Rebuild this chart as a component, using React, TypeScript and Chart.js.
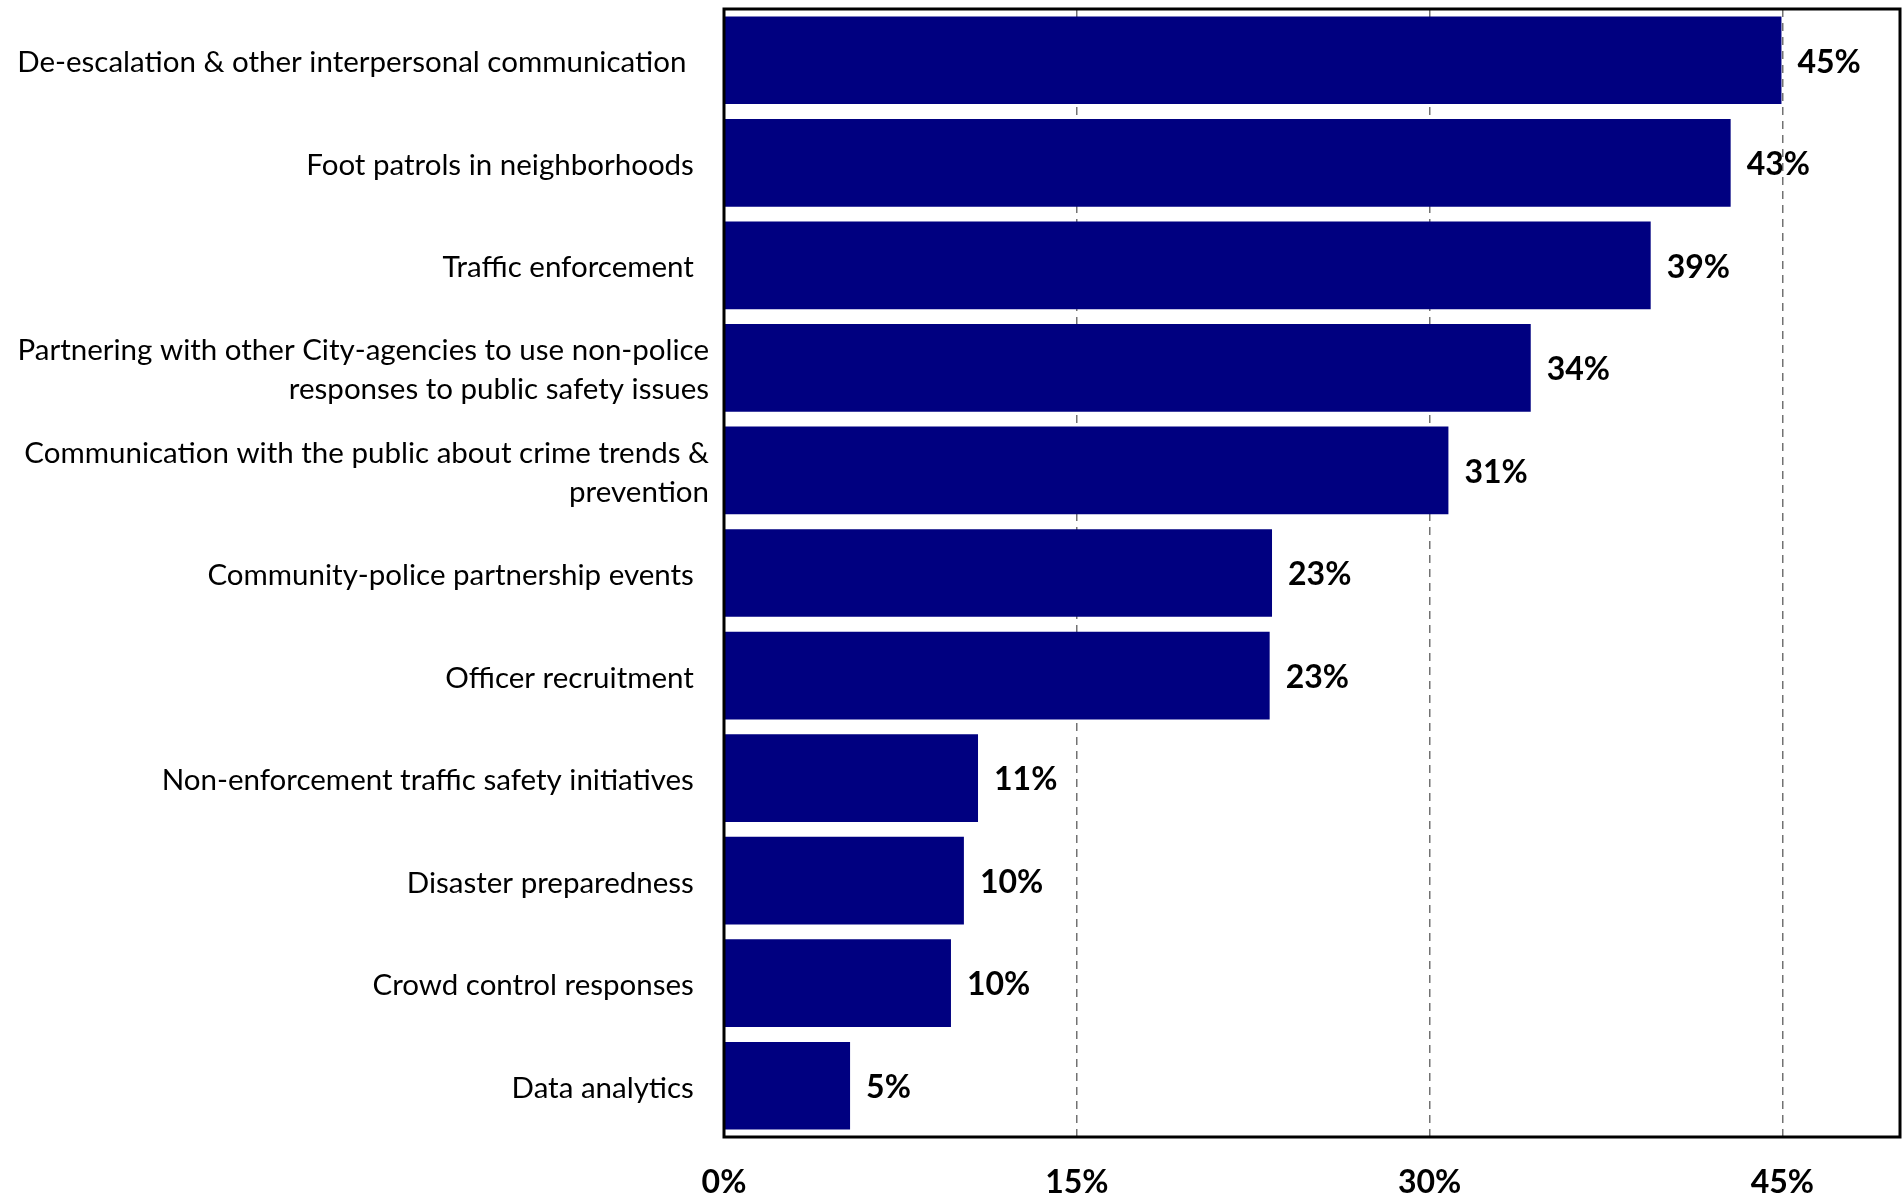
import React, { useEffect, useRef } from 'react';
import { Chart, registerables } from 'chart.js';

Chart.register(...registerables);

const categories: (string | string[])[] = [
  'De-escalation & other interpersonal communication   ',
  'Foot patrols in neighborhoods  ',
  'Traffic enforcement  ',
  ['Partnering with other City-agencies to use non-police', 'responses to public safety issues'],
  ['Communication with the public about crime trends &', 'prevention'],
  'Community-police partnership events  ',
  'Officer recruitment  ',
  'Non-enforcement traffic safety initiatives  ',
  'Disaster preparedness  ',
  'Crowd control responses  ',
  'Data analytics  ',
];

const values: number[] = [44.96, 42.8, 39.4, 34.3, 30.8, 23.3, 23.2, 10.8, 10.2, 9.65, 5.36];

const xTickValues: number[] = [0, 15, 30, 45];
const xMax = 50;

const FONT = 'Lato';
const BAR_COLOR = '#000080';

const framePlugin = {
  id: 'frame',
  afterDraw(chart: any) {
    const { ctx, chartArea } = chart;
    ctx.save();
    ctx.strokeStyle = '#000000';
    ctx.lineWidth = 3;
    ctx.strokeRect(chartArea.left, chartArea.top, chartArea.right - chartArea.left, chartArea.bottom - chartArea.top);
    ctx.restore();
  },
};

const valueLabelPlugin = {
  id: 'valueLabels',
  afterDatasetsDraw(chart: any) {
    const { ctx } = chart;
    const meta = chart.getDatasetMeta(0);
    ctx.save();
    ctx.font = `bold 32px ${FONT}`;
    ctx.fillStyle = '#000000';
    ctx.textAlign = 'left';
    ctx.textBaseline = 'middle';
    meta.data.forEach((el: any, i: number) => {
      const v = chart.data.datasets[0].data[i] as number;
      ctx.fillText(`${Math.round(v)}%`, el.x + 16, el.y + 2);
    });
    ctx.restore();
  },
};

export default function App() {
  const ref = useRef<HTMLCanvasElement | null>(null);

  useEffect(() => {
    document.body.style.margin = '0';
    const canvas = ref.current;
    if (!canvas) return;
    const chart = new Chart(canvas, {
      type: 'bar',
      data: {
        labels: categories as any,
        datasets: [
          {
            data: values,
            backgroundColor: BAR_COLOR,
            borderWidth: 0,
            categoryPercentage: 1,
            barPercentage: 0.855,
          },
        ],
      },
      options: {
        indexAxis: 'y',
        responsive: false,
        animation: false,
        events: [],
        layout: { padding: { top: 9, right: 4, left: 0, bottom: 0 } },
        plugins: {
          legend: { display: false },
          tooltip: { enabled: false },
          title: { display: false },
        },
        scales: {
          x: {
            type: 'linear',
            min: 0,
            max: xMax,
            position: 'bottom',
            afterFit(scale: any) {
              scale.height = 59;
              scale.paddingLeft = 0;
              scale.paddingRight = 0;
            },
            afterBuildTicks(scale: any) {
              scale.ticks = xTickValues.map((v) => ({ value: v }));
            },
            grid: {
              display: true,
              drawTicks: false,
              color: (c: any) => (c.tick && c.tick.value === 0 ? 'rgba(0,0,0,0)' : '#727272'),
              lineWidth: 1.5,
            },
            border: { display: false, dash: [8, 6] },
            ticks: {
              padding: 26,
              color: '#000000',
              font: { family: FONT, size: 32, weight: 'bold' },
              callback: (v: any) => `${v}%`,
            },
          },
          y: {
            type: 'category',
            position: 'left',
            afterFit(scale: any) {
              scale.width = 724;
              scale.paddingTop = 0;
              scale.paddingBottom = 0;
            },
            grid: { display: false, drawTicks: false },
            border: { display: false },
            ticks: {
              padding: 15,
              labelOffset: 2.5,
              color: '#000000',
              autoSkip: false,
              font: { family: FONT, size: 29.5, lineHeight: 1.32 },
            },
          },
        },
      },
      plugins: [framePlugin, valueLabelPlugin],
    });
    return () => chart.destroy();
  }, []);

  return (
    <div style={{ width: 1904, height: 1196 }}>
      <canvas ref={ref} width={1904} height={1196} style={{ display: 'block' }} />
    </div>
  );
}
